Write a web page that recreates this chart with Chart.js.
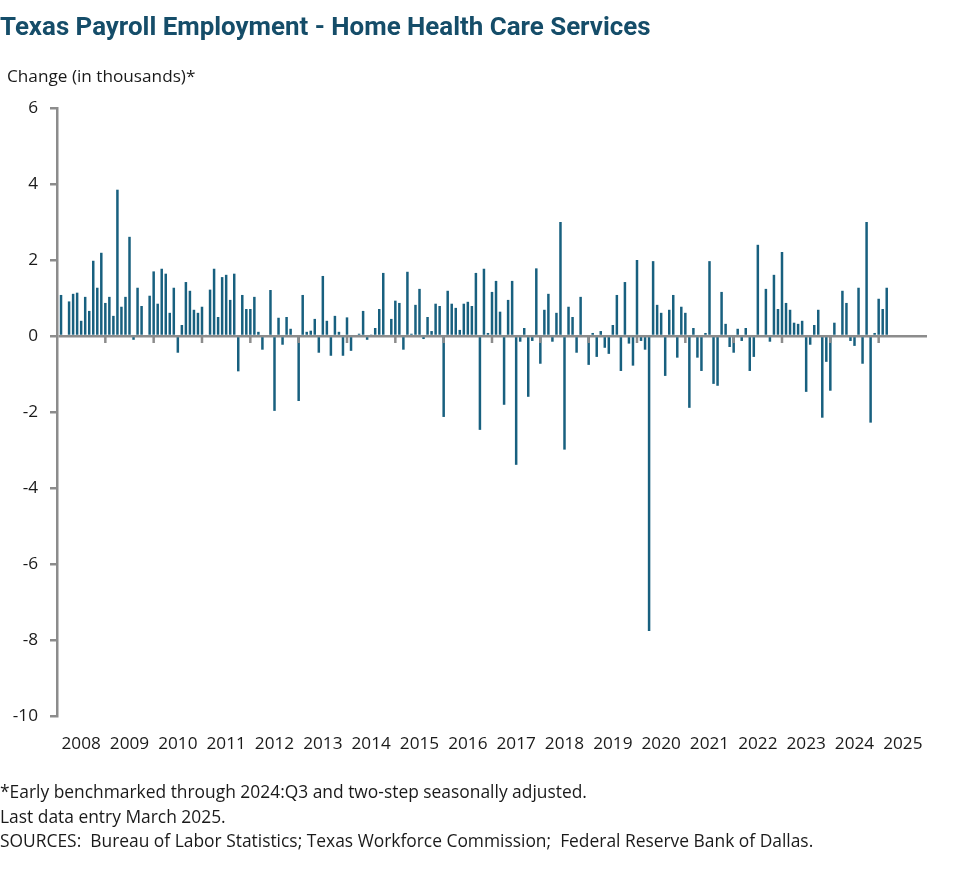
<!DOCTYPE html>
<html>
<head>
<meta charset="utf-8">
<title>Texas Payroll Employment - Home Health Care Services</title>
<script src="https://cdn.jsdelivr.net/npm/chart.js@4.4.1/dist/chart.umd.min.js"></script>
<style>
  body { margin: 0; background: #fff; font-family: "Open Sans", Roboto, sans-serif; color: #1a1a1a; }
  #wrap { position: relative; width: 979px; height: 878px; overflow: hidden; }
  #chart { position: absolute; left: 0; top: 0; }
  .txt { position: absolute; left: 0; white-space: nowrap; }
  #title { top: 11px; font-family: Roboto, sans-serif; font-size: 25.9px; font-weight: bold; color: #154d69; }
  #unit { top: 64px; left: 7px; font-size: 17.2px; }
  #notes { top: 779px; font-size: 17.4px; line-height: 24.5px; }
</style>
</head>
<body>
<div id="wrap">
  <canvas id="chart" width="979" height="878"></canvas>
  <div id="title" class="txt">Texas Payroll Employment - Home Health Care Services</div>
  <div id="unit" class="txt">Change (in thousands)*</div>
  <div id="notes" class="txt">
    *Early benchmarked through 2024:Q3 and two-step seasonally adjusted.<br>
    Last data entry March 2025.<br>
    SOURCES:&nbsp; Bureau of Labor Statistics; Texas Workforce Commission;&nbsp; Federal Reserve Bank of Dallas.
  </div>
</div>

<script>
// monthly change, thousands of jobs (Jan..Dec)
var y2008 = [null, 1.08, 0, 0.91, 1.11, 1.14, 0.40, 1.03, 0.66, 1.98, 1.27, 2.19];
var y2009 = [0.87, 1.03, 0.53, 3.85, 0.77, 1.03, 2.61, -0.10, 1.27, 0.79, 0, 1.06];
var y2010 = [1.70, 0.85, 1.77, 1.64, 0.61, 1.27, -0.44, 0.29, 1.42, 1.19, 0.69, 0.61];
var y2011 = [0.77, 0.03, 1.22, 1.77, 0.50, 1.55, 1.61, 0.95, 1.64, -0.93, 1.08, 0.71];
var y2012 = [0.71, 1.03, 0.11, -0.36, 0, 1.21, -1.97, 0.48, -0.23, 0.50, 0.19, 0];
var y2013 = [-1.71, 1.08, 0.11, 0.14, 0.45, -0.44, 1.58, 0.40, -0.52, 0.53, 0.11, -0.52];
var y2014 = [0.49, -0.39, 0, 0.06, 0.66, -0.10, 0.04, 0.21, 0.71, 1.66, 0, 0.45];
var y2015 = [0.93, 0.87, -0.36, 1.69, 0.06, 0.82, 1.24, -0.08, 0.50, 0.13, 0.85, 0.79];
var y2016 = [-2.13, 1.19, 0.85, 0.74, 0.16, 0.85, 0.90, 0.79, 1.66, -2.47, 1.77, 0.08];
var y2017 = [1.16, 1.45, 0.64, -1.81, 0.95, 1.45, -3.39, -0.15, 0.21, -1.60, -0.13, 1.78];
var y2018 = [-0.73, 0.69, 1.11, -0.15, 0.61, 3.00, -2.99, 0.77, 0.50, -0.44, 1.03, 0];
var y2019 = [-0.76, 0.08, -0.55, 0.13, -0.31, -0.47, 0.29, 1.08, -0.92, 1.42, -0.20, -0.78];
var y2020 = [2.00, -0.13, -0.36, -7.76, 1.97, 0.82, 0.61, -1.05, 0.69, 1.08, -0.57, 0.77];
var y2021 = [0.61, -1.89, 0.21, -0.57, -0.92, 0.08, 1.97, -1.26, -1.31, 1.16, 0.32, -0.29];
var y2022 = [-0.44, 0.19, -0.13, 0.21, -0.92, -0.55, 2.40, 0, 1.24, -0.15, 1.61, 0.71];
var y2023 = [2.21, 0.87, 0.69, 0.35, 0.32, 0.40, -1.47, -0.23, 0.29, 0.69, -2.15, -0.68];
var y2024 = [-1.44, 0.35, 0, 1.19, 0.87, -0.13, -0.26, 1.27, -0.73, 3.00, -2.28, 0.08];
var y2025 = [0.98, 0.71, 1.27];

var years = ['2008','2009','2010','2011','2012','2013','2014','2015','2016',
             '2017','2018','2019','2020','2021','2022','2023','2024','2025'];
var yTicks = [-10, -8, -6, -4, -2, 0, 2, 4, 6];

var values = [].concat(y2008, y2009, y2010, y2011, y2012, y2013, y2014, y2015, y2016,
                       y2017, y2018, y2019, y2020, y2021, y2022, y2023, y2024, y2025);

// one slot per month, Jan 2008 .. Jan 2026 (axis runs edge to edge)
var labels = [];
years.forEach(function (yr) {
  for (var m = 1; m <= 12; m++) labels.push(yr + '-' + (m < 10 ? '0' + m : m));
});
labels.push('2026-01');

var GRAY = '#8c8c8c';
var BAR = '#18607f';
var TXT = '#1a1a1a';

// short year ticks hanging under the zero line
var zeroTicks = {
  id: 'zeroTicks',
  afterDatasetsDraw: function (chart) {
    var x = chart.scales.x, y = chart.scales.y;
    var y0 = y.getPixelForValue(0);
    var c = chart.ctx;
    c.save();
    c.strokeStyle = GRAY;
    c.lineWidth = 2.5;
    for (var i = 12; i < values.length; i += 12) {
      var px = x.getPixelForValue(i);
      c.beginPath();
      c.moveTo(px, y0);
      c.lineTo(px, y0 + 7);
      c.stroke();
    }
    c.restore();
  }
};

new Chart(document.getElementById('chart'), {
  type: 'bar',
  data: {
    labels: labels,
    datasets: [{
      data: values,
      backgroundColor: BAR,
      borderWidth: 0,
      barPercentage: 0.62,
      categoryPercentage: 1.0
    }]
  },
  options: {
    responsive: false,
    animation: false,
    layout: { padding: { left: 0, right: 52, top: 108, bottom: 122 } },
    plugins: {
      legend: { display: false },
      tooltip: { enabled: false }
    },
    scales: {
      x: {
        offset: false,
        grid: { display: false },
        border: { display: false },
        ticks: {
          autoSkip: false,
          maxRotation: 0,
          padding: 10,
          color: TXT,
          font: { family: 'Open Sans', size: 17.2 },
          callback: function (v, i) { return i % 12 === 6 ? years[Math.floor(i / 12)] : ''; }
        },
        afterFit: function (s) { s.height = 40; }
      },
      y: {
        min: -10,
        max: 6,
        afterBuildTicks: function (s) { s.ticks = yTicks.map(function (v) { return { value: v }; }); },
        border: { color: GRAY, width: 2.5 },
        grid: {
          color: function (ctx) { return ctx.tick && ctx.tick.value === 0 ? GRAY : 'rgba(0,0,0,0)'; },
          lineWidth: 2.5,
          tickColor: GRAY,
          tickLength: 7
        },
        ticks: {
          padding: 12,
          color: TXT,
          font: { family: 'Open Sans', size: 17.2 }
        },
        afterFit: function (s) { s.width = 57; }
      }
    }
  },
  plugins: [zeroTicks]
});
</script>
</body>
</html>
